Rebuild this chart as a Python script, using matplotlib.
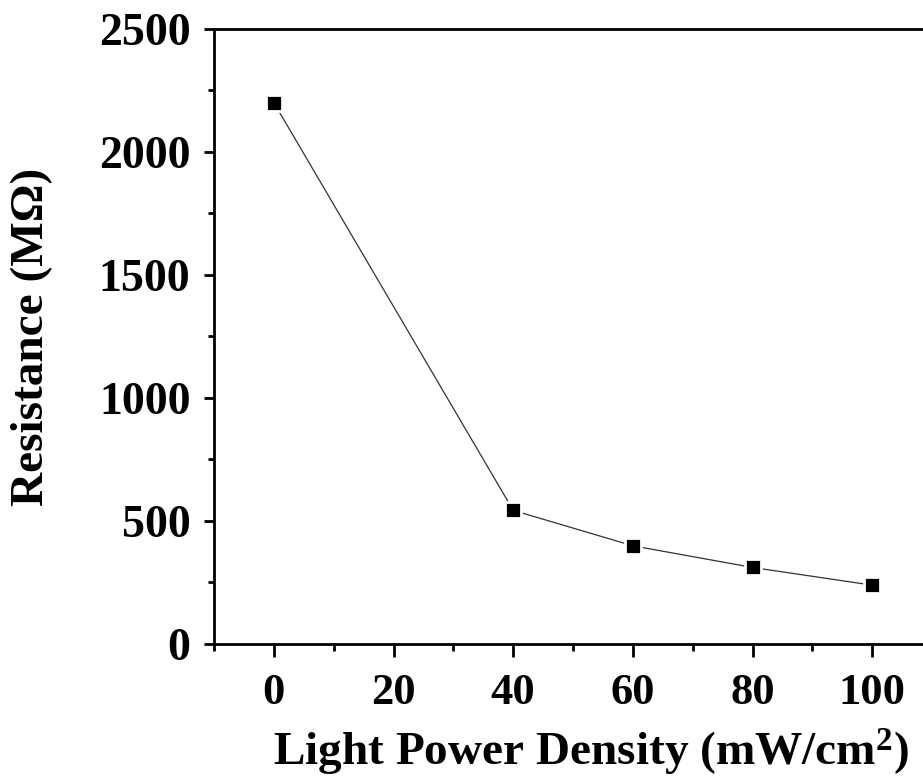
import matplotlib
matplotlib.use("Agg")
import matplotlib.pyplot as plt
from matplotlib.ticker import MultipleLocator

# light power density (mW/cm^2) vs resistance (MOhm)
power = [0, 40, 60, 80, 100]
resistance = [2200, 543, 399, 311, 239]

plt.rcParams["font.family"] = ["Liberation Serif", "DejaVu Serif"]
plt.rcParams["font.weight"] = "bold"
plt.rcParams["mathtext.fontset"] = "custom"
plt.rcParams["mathtext.rm"] = "Liberation Serif:bold"
plt.rcParams["mathtext.bf"] = "Liberation Serif:bold"
plt.rcParams["mathtext.default"] = "rm"

fig = plt.figure(figsize=(9.23, 7.8), dpi=100)
ax = fig.add_axes([0.2319, 0.1744, 0.778, 0.7885])

ax.plot(power, resistance, "-", color="#333333", lw=0.9, marker="s",
        ms=12, mfc="black", mec="white", mew=2.0, zorder=3)

ax.set_xlim(-10, 110)
ax.set_ylim(0, 2500)
ax.xaxis.set_major_locator(MultipleLocator(20))
ax.xaxis.set_minor_locator(MultipleLocator(10))
ax.yaxis.set_major_locator(MultipleLocator(500))
ax.yaxis.set_minor_locator(MultipleLocator(250))

for s in ax.spines.values():
    s.set_linewidth(2.0)
ax.tick_params(which="both", direction="out", width=2.0,
               top=False, right=False)
ax.tick_params(axis="y", which="major", length=7, pad=10, labelsize=33)
ax.tick_params(axis="y", which="minor", length=4)
ax.tick_params(axis="x", which="major", length=9, pad=12, labelsize=32)
ax.tick_params(axis="x", which="minor", length=5)
for lab in ax.get_xticklabels() + ax.get_yticklabels():
    lab.set_fontweight("bold")

ax.set_xlabel(r"Light Power Density (mW/cm$^{2}$)", fontsize=34,
              fontweight="bold", labelpad=10)
ax.xaxis.label.set_x(0.525)
ax.set_ylabel("Resistance (M\u03a9)", fontsize=34, fontweight="bold",
              labelpad=33)

fig.savefig("out.png", dpi=100)
